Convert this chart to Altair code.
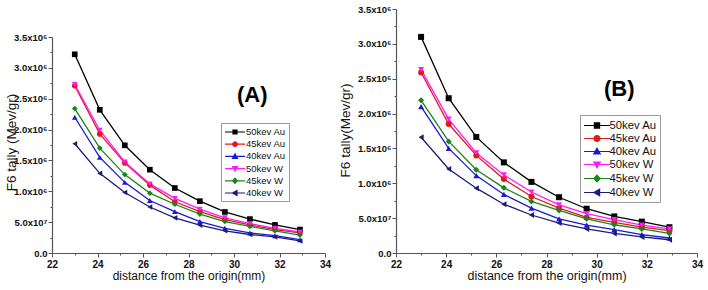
import altair as alt
import pandas as pd

# ---------------- data ----------------
x_vals = [23, 24.1, 25.2, 26.3, 27.4, 28.5, 29.6, 30.7, 31.8, 32.9]
series_names = ["50kev Au", "45kev Au", "40kev Au", "50kev W", "45kev W", "40kev W"]
series_colors = ["#000000", "#e01a1a", "#1a1ad6", "#ff1aff", "#1a861a", "#1c1c78"]
series_shapes = ["square", "circle", "triangle-up", "triangle-down", "diamond", "triangle-left"]

# panel (A) values, in units of 1e6
a_au50 = [3.22, 2.32, 1.745, 1.35, 1.053, 0.84, 0.665, 0.55, 0.455, 0.38]
a_au45 = [2.71, 1.93, 1.46, 1.10, 0.83, 0.67, 0.54, 0.455, 0.38, 0.325]
a_au40 = [2.20, 1.55, 1.145, 0.85, 0.67, 0.51, 0.40, 0.325, 0.28, 0.215]
a_w50 = [2.73, 1.99, 1.475, 1.12, 0.885, 0.71, 0.57, 0.475, 0.40, 0.34]
a_w45 = [2.34, 1.70, 1.27, 0.97, 0.79, 0.63, 0.51, 0.43, 0.36, 0.29]
a_w40 = [1.77, 1.29, 0.98, 0.745, 0.57, 0.45, 0.36, 0.30, 0.26, 0.195]

# panel (B) values, in units of 1e6
b_au50 = [3.10, 2.22, 1.665, 1.30, 1.02, 0.80, 0.635, 0.525, 0.45, 0.37]
b_au45 = [2.59, 1.85, 1.40, 1.06, 0.81, 0.645, 0.51, 0.44, 0.37, 0.32]
b_au40 = [2.10, 1.50, 1.11, 0.84, 0.645, 0.49, 0.40, 0.335, 0.265, 0.215]
b_w50 = [2.63, 1.92, 1.435, 1.12, 0.875, 0.69, 0.565, 0.48, 0.40, 0.345]
b_w45 = [2.19, 1.60, 1.195, 0.935, 0.74, 0.61, 0.49, 0.405, 0.345, 0.28]
b_w40 = [1.66, 1.205, 0.93, 0.70, 0.545, 0.43, 0.345, 0.28, 0.23, 0.19]

y_tick_labels = ["0.0", "5.0x10\u2077", "1.0x10\u2076", "1.5x10\u2076", "2.0x10\u2076",
                 "2.5x10\u2076", "3.0x10\u2076", "3.5x10\u2076"]
y_tick_values = [i * 0.25 for i in range(15)]
x_tick_values = list(range(22, 35))

panel_tags = ["(A)", "(B)"]
tag_x = [30.8, 30.9]
tag_y = [2.56, 2.35]

x_title = "distance from the origin(mm)"
y_titles = ["F6 tally (Mev/gr)", "F6 tally(Mev/gr)"]

# legend symbols: a line with the marker on it (unit coordinates)
legend_paths = [
    "M-2,0H2M-0.4,-0.4H0.4V0.4H-0.4Z",
    "M-2,0H2M-0.45,0A0.45,0.45,0,1,0,0.45,0A0.45,0.45,0,1,0,-0.45,0Z",
    "M-2,0H2M0,-0.5L0.5,0.38L-0.5,0.38Z",
    "M-2,0H2M0,0.5L0.5,-0.38L-0.5,-0.38Z",
    "M-2,0H2M0,-0.52L0.48,0L0,0.52L-0.48,0Z",
    "M-2,0H2M-0.5,0L0.4,-0.5L0.4,0.5Z",
]

FONT = "Liberation Sans"
AXIS_COLOR = "#555555"


def long_frame(cols):
    rows = []
    for name, vals in zip(series_names, cols):
        for xv, yv in zip(x_vals, vals):
            rows.append({"x": xv, "y": yv, "series": name})
    return pd.DataFrame(rows)


label_expr_y = ("(round(datum.value*4) % 2 === 0) ? "
                + "[" + ",".join("'" + t + "'" for t in y_tick_labels) + "]"
                + "[round(datum.value*2)] : ''")


def panel(cols, idx, width, height, y_top, leg_x, leg_y, leg_font, leg_size,
          leg_row_pad, leg_label_offset, leg_sym_offset, title_x, title_y,
          x_title_size, y_title_size, point_size):
    df = long_frame(cols)
    x_enc = alt.X(
        "x:Q",
        scale=alt.Scale(domain=[22, 34], nice=False, zero=False),
        axis=alt.Axis(
            values=x_tick_values,
            labelExpr="datum.value % 2 === 0 ? datum.label : ''",
            tickSize={"condition": {"test": "datum.value % 2 === 0", "value": 4}, "value": 2},
            grid=False, labelFlush=False, labelOverlap=False,
            domainColor=AXIS_COLOR, tickColor=AXIS_COLOR, domainWidth=1.2, tickWidth=1,
            labelFont=FONT, labelFontSize=10, labelFontWeight="bold", labelColor="#111111",
            labelPadding=2,
            title=x_title, titleFont=FONT, titleFontSize=x_title_size,
            titleFontWeight="normal", titleColor="#111111",
            titleBaseline="alphabetic", titleY=26,
        ),
    )
    y_enc = alt.Y(
        "y:Q",
        scale=alt.Scale(domain=[0, 3.5], range=[height, y_top], nice=False, zero=True),
        axis=alt.Axis(
            values=y_tick_values,
            labelExpr=label_expr_y,
            tickSize={"condition": {"test": "round(datum.value*4) % 2 === 0", "value": 4}, "value": 2},
            grid=False, labelOverlap=False, labelFlush=False,
            domainColor=AXIS_COLOR, tickColor=AXIS_COLOR, domainWidth=1.2, tickWidth=1,
            labelFont=FONT, labelFontSize=9.5, labelFontWeight="bold", labelColor="#111111",
            labelPadding=1,
            title=y_titles[idx], titleFont=FONT, titleFontSize=y_title_size,
            titleFontWeight="normal", titleColor="#111111",
            titleBaseline="middle", titleX=title_x, titleY=title_y,
        ),
    )
    leg = alt.Legend(
        title=None, orient="none", legendX=leg_x, legendY=leg_y,
        labelFont=FONT, labelFontSize=leg_font, labelColor="#111111",
        symbolSize=leg_size, symbolStrokeWidth=1.2, symbolOpacity=1,
        symbolOffset=leg_sym_offset, labelOffset=leg_label_offset,
        rowPadding=leg_row_pad, padding=3,
        strokeColor="#999999", fillColor="white",
    )
    color_scale = alt.Scale(domain=series_names, range=series_colors)

    # invisible layer that carries the legend (line + marker symbols)
    legend_layer = alt.Chart(df).mark_point(filled=True, opacity=0).encode(
        x=x_enc, y=y_enc,
        color=alt.Color("series:N", scale=color_scale, legend=leg),
        stroke=alt.Stroke("series:N", scale=alt.Scale(domain=series_names, range=series_colors), legend=leg),
        shape=alt.Shape("series:N", scale=alt.Scale(domain=series_names, range=legend_paths), legend=leg),
    )
    layers = [legend_layer]

    lines = alt.Chart(df).mark_line(strokeWidth=1.3).encode(
        x=x_enc, y=y_enc,
        color=alt.Color("series:N", scale=color_scale, legend=leg),
    )
    layers.append(lines)
    for name, shp in zip(series_names, series_shapes):
        layers.append(
            alt.Chart(df).transform_filter(alt.datum.series == name)
            .mark_point(shape=shp, filled=True, size=point_size, opacity=1)
            .encode(x=x_enc, y=y_enc,
                    color=alt.Color("series:N", scale=color_scale, legend=leg))
        )

    tag_df = pd.DataFrame({"x": [tag_x[idx]], "y": [tag_y[idx]], "t": [panel_tags[idx]]})
    tag = alt.Chart(tag_df).mark_text(font=FONT, fontSize=22, fontWeight="bold",
                                      color="#000000").encode(x=x_enc, y=y_enc, text="t:N")
    layers.append(tag)

    return alt.layer(*layers).properties(width=width, height=height)


pA = panel([a_au50, a_au45, a_au40, a_w50, a_w45, a_w40], 0, 273, 244, 28,
           169, 114, 9.5, 100, 1.2, 5, 5, -41, 133, 12, 13.5, 32)
pB = panel([b_au50, b_au45, b_au40, b_w50, b_w45, b_w40], 1, 301, 244, 0,
           184, 106, 11.3, 169, 0, 5, 6.5, -51, 121, 12.5, 13.5, 36)

chart = alt.hconcat(pA, pB, spacing=71, bounds="flush").resolve_scale(
    color="independent", stroke="independent", shape="independent",
    x="independent", y="independent",
).configure_view(stroke=None).properties(
    padding={"left": 4, "top": 4, "right": 5, "bottom": 5},
    background="white",
)

chart.save("out.html", embed_options={"renderer": "svg", "actions": False})
